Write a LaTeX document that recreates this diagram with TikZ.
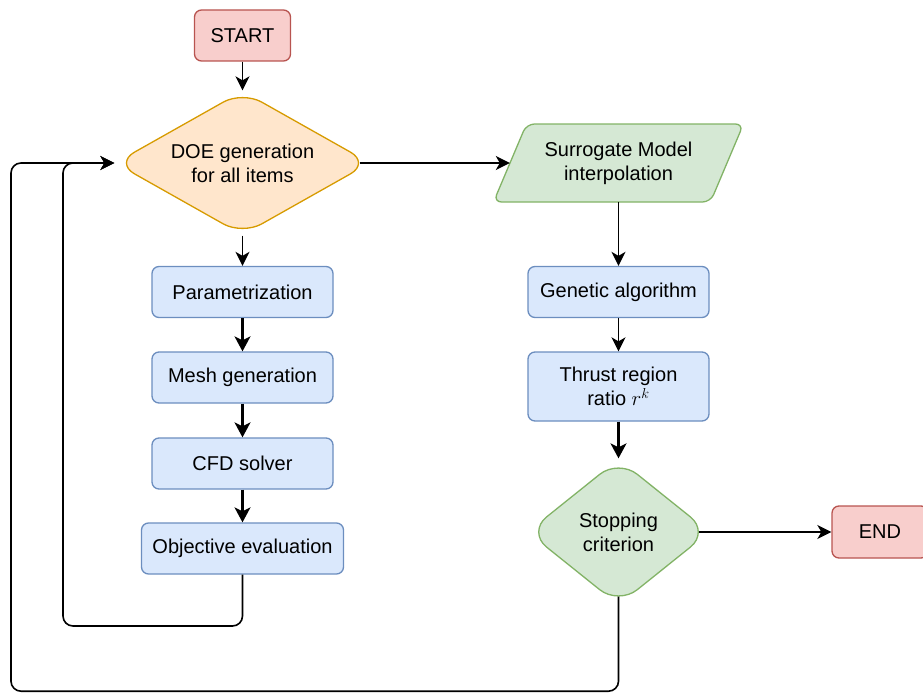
\documentclass[tikz,border=0pt]{standalone}
\usepackage{fontspec}
\setmainfont{Liberation Sans}
\usetikzlibrary{shapes.geometric,arrows.meta}

\definecolor{redfill}{HTML}{F8CECC}
\definecolor{redline}{HTML}{B85450}
\definecolor{orangefill}{HTML}{FFE6CC}
\definecolor{orangeline}{HTML}{D79B00}
\definecolor{greenfill}{HTML}{D5E8D4}
\definecolor{greenline}{HTML}{82B366}
\definecolor{bluefill}{HTML}{DAE8FC}
\definecolor{blueline}{HTML}{6C8EBF}

\tikzset{
  lbl/.style={font=\fontsize{20}{24}\selectfont, align=center, text=black, inner sep=0pt},
  boxbase/.style={lbl, rectangle, rounded corners=7pt, line width=1.3pt, minimum height=51pt},
  terminal/.style={boxbase, draw=redline, fill=redfill, minimum width=96pt},
  process/.style={boxbase, draw=blueline, fill=bluefill, minimum width=181pt},
  decision/.style={lbl, diamond, line width=1.3pt},
  flow/.style={line width=1.6pt, draw=black,
    -{Stealth[length=14pt,width=14pt,inset=4pt]}},
  flowthick/.style={line width=2.2pt, draw=black,
    -{Stealth[length=15pt,width=16pt,inset=4pt]}},
}

\begin{document}
\begin{tikzpicture}[x=1pt,y=-1pt]
\useasboundingbox (0,0) rectangle (923,693);

% left column
\node[terminal] (start) at (242.5,35.5) {START};
\node[decision, draw=orangeline, fill=orangefill, rounded corners=22pt,
      minimum width=255pt, minimum height=144pt, shape aspect=1.77]
      (doe) at (242.5,163) {DOE generation\\for all items};
\node[process] (param) at (242.5,292) {Parametrization};
\node[process] (mesh)  at (242.5,377.5) {Mesh generation};
\node[process] (cfd)   at (242.5,463.5) {CFD solver};
\node[process, minimum width=202pt] (obj) at (242.5,548.5) {Objective evaluation};

% right column: parallelogram outline, then its label
\draw[draw=greenline, fill=greenfill, line width=1.3pt, rounded corners=8pt,
      shift={(618.5,163)}]
  (-125,39) -- (92,39) -- (125,-39) -- (-92,-39) -- cycle;
\node[lbl, minimum width=217pt, minimum height=78pt] (sur) at (618.5,163)
  {Surrogate Model\\interpolation};
\node[process] (ga) at (618.5,292) {Genetic algorithm};
\node[process, minimum height=69pt] (thrust) at (618.5,386.5)
  {Thrust region\\ratio $r^k$};
\node[decision, draw=greenline, fill=greenfill, rounded corners=24pt,
      minimum width=182pt, minimum height=146pt, shape aspect=1.25]
      (stop) at (618.5,532) {Stopping\\criterion};
\node[terminal, minimum height=52pt] (end) at (880,532) {END};

% connectors
\draw[flow] (start) -- (doe);
\draw[flow] (doe) -- (param);
\draw[flowthick] (param) -- (mesh);
\draw[flowthick] (mesh) -- (cfd);
\draw[flowthick] (cfd) -- (obj);
\draw[flow] ([xshift=-11pt]doe.east) -- (sur.west);
\draw[flow] (sur) -- (ga);
\draw[flow] (ga) -- (thrust);
\draw[flowthick] (thrust) -- (stop);
\draw[flow] ([xshift=-11pt]stop.east) -- (end);

% feedback loops
\coordinate (innerbend) at (63,626);
\coordinate (outerbend) at (11,691.2);
\draw[flow, rounded corners=10pt] (obj.south) |- (innerbend) |- (doe.west);
\draw[flow, rounded corners=10pt] ([yshift=9pt]stop.south) |- (outerbend) |- (doe.west);
\end{tikzpicture}
\end{document}
